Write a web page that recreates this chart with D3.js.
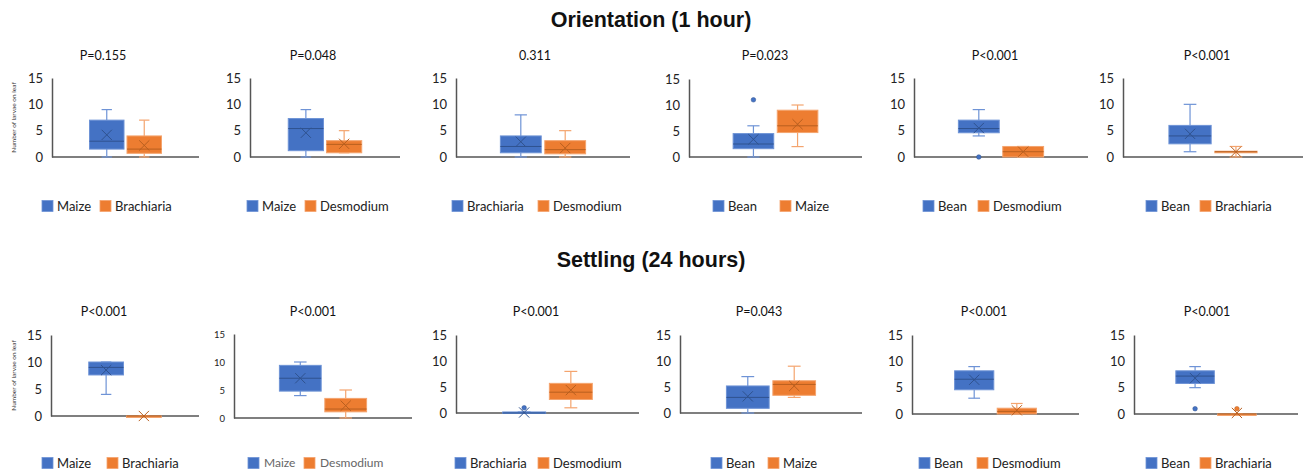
<!DOCTYPE html>
<html>
<head>
<meta charset="utf-8">
<script src="https://cdn.jsdelivr.net/npm/d3@7"></script>
<style>
  body { margin: 0; background: #fff; }
  svg { display: block; }
</style>
</head>
<body>
<svg id="chart"></svg>
<script>
const sectionTitles = ['Orientation (1 hour)', 'Settling (24 hours)'];
const pLabels = ['P=0.155', 'P=0.048', '0.311', 'P=0.023', 'P<0.001', 'P<0.001',
                 'P<0.001', 'P<0.001', 'P<0.001', 'P=0.043', 'P<0.001', 'P<0.001'];
const blueNames = ['Maize', 'Maize', 'Brachiaria', 'Bean', 'Bean', 'Bean',
                   'Maize', 'Maize', 'Brachiaria', 'Bean', 'Bean', 'Bean'];
const orangeNames = ['Brachiaria', 'Desmodium', 'Desmodium', 'Maize', 'Desmodium', 'Brachiaria',
                     'Brachiaria', 'Desmodium', 'Desmodium', 'Maize', 'Desmodium', 'Brachiaria'];

// [min, q1, median, q3, max]
const blueBoxes = [
  [0, 1.5, 3, 7, 9], [0, 1.2, 5.4, 7.3, 9], [0, 0.8, 2, 4, 8],
  [0, 1.6, 2.5, 4.5, 6], [4, 4.6, 5.4, 7, 9], [1, 2.5, 4, 6, 10],
  [4, 7.6, 9, 10, 10], [4, 4.8, 7.1, 9.4, 10], [0, 0, 0, 0.2, 0.2],
  [0, 0.9, 3, 5.2, 7], [3, 4.6, 6.6, 8.2, 9], [5, 5.8, 7.2, 8.2, 9]
];
const orangeBoxes = [
  [0, 0.7, 1.5, 4, 7], [0.8, 0.8, 2.4, 3.1, 5], [0, 0.6, 1.4, 3.1, 5],
  [2, 4.7, 6, 9, 10], [0, 0, 1, 2, 2], [0, 0.8, 1, 1.1, 2],
  [0, 0, 0, 0, 0], [0, 1.1, 1.6, 3.5, 5], [1, 2.6, 4, 5.7, 8],
  [3, 3.4, 5.5, 6.2, 9], [0, 0, 0.5, 1.1, 2], [0, 0, 0, 0, 0]
];
const blueMeans = [4.2, 4.6, 2.9, 3.4, 5.5, 4.4, 8.5, 7.1, 0.1, 3.2, 6.5, 6.8];
const orangeMeans = [2.2, 2.5, 1.7, 6.3, 1, 1, 0, 2.2, 4.4, 5.2, 0.7, 0.2];
const blueOutliers = [[], [], [], [11], [0], [], [], [], [1], [], [], [1]];
const orangeOutliers = [[], [], [], [], [], [], [], [], [], [], [], [1]];
const yTicks = [0, 5, 10, 15];
const yTitle = 'Number of larvae on leaf';

// where each pasted panel sits in the collage
const layout = [
  { left: 52, right: 199, top: 78, bottom: 157, titleX: 103, titleY: 56, legX: [42, 100], legY: 206, yTitle: true },
  { left: 250, right: 400, top: 78, bottom: 157, titleX: 313, titleY: 56, legX: [247, 305], legY: 206 },
  { left: 456, right: 630, top: 78, bottom: 157, titleX: 535, titleY: 56, legX: [452, 538], legY: 206 },
  { left: 689, right: 862, top: 79, bottom: 157, titleX: 765, titleY: 56, legX: [713, 780], legY: 206 },
  { left: 914, right: 1088, top: 78, bottom: 157, titleX: 995, titleY: 56, legX: [923, 978], legY: 206 },
  { left: 1123, right: 1303, top: 78, bottom: 157, titleX: 1207, titleY: 56, legX: [1146, 1200], legY: 206 },
  { left: 51, right: 199, top: 335, bottom: 416, titleX: 104, titleY: 312, legX: [42, 107], legY: 463, yTitle: true },
  { left: 234, right: 412, top: 334, bottom: 418, titleX: 313, titleY: 312, legX: [248, 304], legY: 463, small: true },
  { left: 456, right: 639, top: 335, bottom: 413, titleX: 536, titleY: 312, legX: [455, 538], legY: 463 },
  { left: 680, right: 862, top: 335, bottom: 413, titleX: 759, titleY: 312, legX: [711, 768], legY: 463 },
  { left: 912, right: 1079, top: 335, bottom: 414, titleX: 984, titleY: 312, legX: [919, 977], legY: 463 },
  { left: 1134, right: 1298, top: 335, bottom: 414, titleX: 1207, titleY: 312, legX: [1146, 1200], legY: 463 }
];

const colors = {
  blue: { fill: '#4472C4', edge: '#6E93D6', dark: '#2F528F' },
  orange: { fill: '#ED7D31', edge: '#F4A46E', dark: '#B85F1F' }
};
const calibri = 'Lato, "Open Sans", sans-serif';

const width = 1303, height = 471;
const svg = d3.select('#chart').attr('width', width).attr('height', height);

svg.selectAll('.section')
  .data(sectionTitles)
  .enter().append('text')
  .attr('class', 'section')
  .attr('x', 651)
  .attr('y', (d, i) => i === 0 ? 27 : 267)
  .attr('text-anchor', 'middle')
  .style('font-family', '"Liberation Sans", Arial, sans-serif')
  .style('font-weight', 'bold')
  .style('font-size', '21.5px')
  .style('fill', '#111')
  .text(d => d);

const drawBox = (g, x, y, name, stats, mean, outliers, c) => {
  const [lo, q1, med, q3, hi] = stats;
  const bx = x(name), bw = x.bandwidth(), cx = bx + bw / 2, cap = bw * 0.3;

  // whiskers
  g.append('line').attr('x1', cx).attr('x2', cx).attr('y1', y(hi)).attr('y2', y(q3))
    .attr('stroke', c.edge).attr('stroke-width', 1.2);
  g.append('line').attr('x1', cx).attr('x2', cx).attr('y1', y(q1)).attr('y2', y(lo))
    .attr('stroke', c.edge).attr('stroke-width', 1.2);
  [hi, lo].forEach(v => {
    g.append('line').attr('x1', cx - cap / 2).attr('x2', cx + cap / 2)
      .attr('y1', y(v)).attr('y2', y(v))
      .attr('stroke', c.edge).attr('stroke-width', 1.2);
  });

  g.append('rect')
    .attr('x', bx).attr('width', bw)
    .attr('y', y(q3)).attr('height', Math.max(y(q1) - y(q3), 1.5))
    .attr('fill', c.fill).attr('stroke', c.edge).attr('stroke-width', 1);

  g.append('line').attr('x1', bx).attr('x2', bx + bw).attr('y1', y(med)).attr('y2', y(med))
    .attr('stroke', c.dark).attr('stroke-width', 1);

  g.append('path')
    .attr('d', d3.symbol(d3.symbolX, 70)())
    .attr('transform', `translate(${cx},${y(mean)})`)
    .attr('fill', 'none').attr('stroke', c.dark).attr('stroke-width', 1);

  g.selectAll(null).data(outliers).enter().append('circle')
    .attr('cx', cx).attr('cy', d => y(d)).attr('r', 2.3)
    .attr('fill', c.fill).attr('stroke', c.dark).attr('stroke-width', 0.5);
};

layout.forEach((L, i) => {
  const g = svg.append('g').attr('class', 'panel');

  const x = d3.scaleBand()
    .domain([blueNames[i], orangeNames[i]])
    .range([L.left, L.right])
    .paddingInner(0.08)
    .paddingOuter(1);
  const y = d3.scaleLinear().domain([0, 15]).range([L.bottom, L.top]);

  g.append('text')
    .attr('x', L.titleX).attr('y', L.titleY + 4)
    .attr('text-anchor', 'middle')
    .style('font-family', calibri).style('font-size', '12.5px').style('fill', '#111')
    .text(pLabels[i]);

  const yAxis = g.append('g')
    .attr('transform', `translate(${L.left},0)`)
    .call(d3.axisLeft(y).tickValues(yTicks).tickSize(0).tickPadding(9));
  yAxis.select('.domain').attr('stroke', '#555').attr('stroke-width', 1.5);
  yAxis.selectAll('text')
    .style('font-family', calibri)
    .style('font-size', L.small ? '9.5px' : '13px')
    .style('fill', '#222');

  g.append('line')
    .attr('x1', L.left).attr('x2', L.right)
    .attr('y1', y(0)).attr('y2', y(0))
    .attr('stroke', '#555').attr('stroke-width', 1.5);

  if (L.yTitle) {
    g.append('text')
      .attr('transform', `translate(16,${(L.top + L.bottom) / 2}) rotate(-90)`)
      .attr('text-anchor', 'middle')
      .style('font-family', calibri).style('font-size', '6.5px').style('fill', '#333')
      .text(yTitle);
  }

  drawBox(g, x, y, blueNames[i], blueBoxes[i], blueMeans[i], blueOutliers[i], colors.blue);
  drawBox(g, x, y, orangeNames[i], orangeBoxes[i], orangeMeans[i], orangeOutliers[i], colors.orange);

  // legend
  const items = [
    { name: blueNames[i], c: colors.blue },
    { name: orangeNames[i], c: colors.orange }
  ];
  const leg = g.selectAll('.leg').data(items).enter().append('g')
    .attr('class', 'leg')
    .attr('transform', (d, k) => `translate(${L.legX[k]},${L.legY})`);
  leg.append('rect')
    .attr('x', 0).attr('y', -5.5).attr('width', 11).attr('height', 11)
    .attr('fill', d => d.c.fill).attr('stroke', d => d.c.edge).attr('stroke-width', 0.8);
  leg.append('text')
    .attr('x', L.small ? 16 : 15).attr('y', 0).attr('dy', '0.35em')
    .style('font-family', calibri)
    .style('font-size', L.small ? '12px' : '13px')
    .style('fill', L.small ? '#666' : '#222')
    .text(d => d.name);
});
</script>
</body>
</html>
